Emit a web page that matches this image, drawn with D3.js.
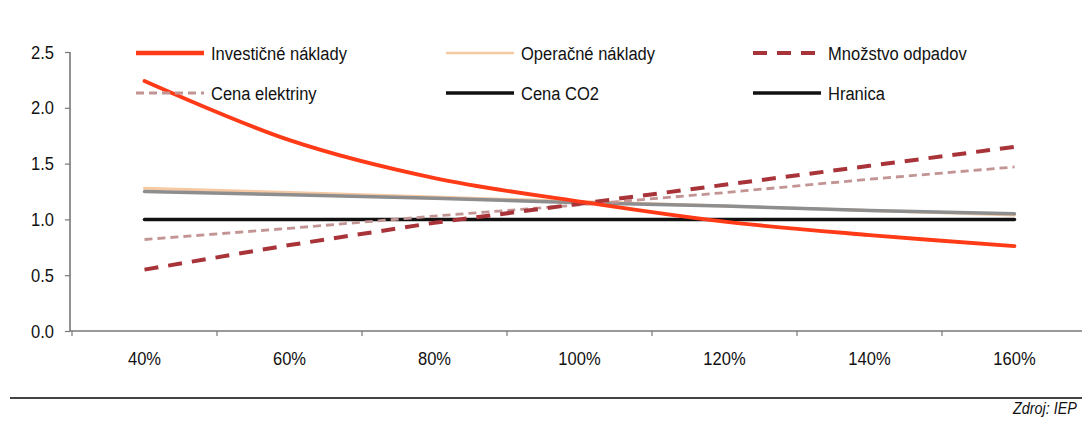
<!DOCTYPE html>
<html>
<head>
<meta charset="utf-8">
<script src="https://cdn.jsdelivr.net/npm/d3@7"></script>
<style>
  html, body { margin: 0; padding: 0; background: #fff; overflow: hidden; }
  svg { display: block; font-family: "Liberation Sans", Arial, sans-serif; }
</style>
</head>
<body>
<svg id="chart" width="1082" height="421"></svg>
<script>
// Sensitivity of the indicator to changes of each input (100% = base case)
const categories = ["40%", "60%", "80%", "100%", "120%", "140%", "160%"];
const yTicks = [0, 0.5, 1.0, 1.5, 2.0, 2.5];

const investicne = [2.24, 1.71, 1.37, 1.16, 0.98, 0.86, 0.76];
const operacne   = [1.28, 1.24, 1.20, 1.16, 1.12, 1.08, 1.04];
const odpady     = [0.55, 0.77, 0.97, 1.14, 1.31, 1.48, 1.65];
const elektrina  = [0.82, 0.92, 1.03, 1.13, 1.24, 1.36, 1.47];
const co2        = [1.25, 1.22, 1.19, 1.15, 1.12, 1.08, 1.05];
const hranica    = [1.00, 1.00, 1.00, 1.00, 1.00, 1.00, 1.00];

const series = [
  { name: "Operačné náklady",   values: operacne,   color: "#f6c9a2", legendColor: "#f6c9a2", width: 3,   legendWidth: 2.5, dash: null,   curve: d3.curveLinear },
  { name: "Cena CO2",           values: co2,        color: "#8e8e8e", legendColor: "#111",    width: 3.5, legendWidth: 3.5, dash: null,   curve: d3.curveLinear },
  { name: "Hranica",            values: hranica,    color: "#111",    legendColor: "#111",    width: 3.5, legendWidth: 3.5, dash: null,   curve: d3.curveLinear },
  { name: "Cena elektriny",     values: elektrina,  color: "#c29494", legendColor: "#c29494", width: 2.8, legendWidth: 2.8, dash: "8,5", curve: d3.curveLinear },
  { name: "Množstvo odpadov",   values: odpady,     color: "#a8343a", legendColor: "#a8343a", width: 4,   legendWidth: 4,   dash: "14,10", curve: d3.curveLinear },
  { name: "Investičné náklady", values: investicne, color: "#ff3a17", legendColor: "#ff3a17", width: 3.8, legendWidth: 4.5, dash: null,   curve: d3.curveCatmullRom.alpha(0.5) }
];

// legend layout: reading order in rows of three
const legendOrder = ["Investičné náklady", "Operačné náklady", "Množstvo odpadov",
                     "Cena elektriny", "Cena CO2", "Hranica"];

const FONT = 19;
const CONDENSE = 0.87;   // horizontal squeeze for a narrow typeface look

// squeeze a text element horizontally around its own anchor point
function condense(sel) {
  sel.each(function () {
    const t = d3.select(this);
    const tx = +t.attr("x") || 0;
    t.attr("transform", `translate(${tx},0) scale(${CONDENSE},1) translate(${-tx},0)`);
  });
}

const svg = d3.select("#chart");

const x = d3.scaleBand().domain(categories).range([72, 72 + 145 * categories.length]).padding(0);
const y = d3.scaleLinear().domain([0, 2.5]).range([331, 52]);
const cx = c => x(c) + x.bandwidth() / 2;

const axisColor = "#777";

// y axis
const yAxis = svg.append("g").attr("transform", "translate(70,0)")
  .call(d3.axisLeft(y).tickValues(yTicks).tickFormat(d3.format(".1f")).tickSize(5).tickPadding(11));
yAxis.select(".domain").attr("stroke", axisColor).attr("stroke-width", 1.6).attr("d", `M0,${y(2.5)}V${y(0)}`);
yAxis.selectAll(".tick line").attr("stroke", axisColor).attr("stroke-width", 1.2);
yAxis.selectAll(".tick text").attr("font-size", FONT).attr("fill", "#111").attr("font-family", null).call(condense);

// x axis: labels centred in each band, tick marks on band boundaries
const xAxis = svg.append("g").attr("transform", `translate(0,${y(0)})`)
  .call(d3.axisBottom(x).tickSize(0).tickPadding(21));
xAxis.select(".domain").attr("stroke", axisColor).attr("stroke-width", 1.6).attr("d", `M70,0H${x.range()[1]}`);
xAxis.selectAll(".tick text").attr("font-size", FONT).attr("fill", "#111").attr("font-family", null).call(condense);
xAxis.selectAll(".boundary")
  .data(categories.concat(["end"]))
  .join("line")
  .attr("class", "boundary")
  .attr("x1", (d, i) => x.range()[0] + i * x.bandwidth())
  .attr("x2", (d, i) => x.range()[0] + i * x.bandwidth())
  .attr("y1", 0).attr("y2", 5)
  .attr("stroke", axisColor).attr("stroke-width", 1.2);

// series lines
const line = d3.line().x((d, i) => cx(categories[i])).y(d => y(d));
svg.append("g").selectAll("path")
  .data(series)
  .join("path")
  .attr("fill", "none")
  .attr("stroke", d => d.color)
  .attr("stroke-width", d => d.width)
  .attr("stroke-dasharray", d => d.dash)
  .attr("stroke-linecap", d => d.dash ? "butt" : "round")
  .attr("d", d => line.curve(d.curve)(d.values));

// legend
const legendCols = [136, 446, 753];
const legendRows = [53, 93];
const legend = svg.append("g");
legendOrder.forEach((name, i) => {
  const s = series.find(d => d.name === name);
  const lx = legendCols[i % 3], ly = legendRows[Math.floor(i / 3)];
  legend.append("line")
    .attr("x1", lx).attr("x2", lx + 68).attr("y1", ly).attr("y2", ly)
    .attr("stroke", s.legendColor).attr("stroke-width", s.legendWidth)
    .attr("stroke-dasharray", s.dash);
  legend.append("text")
    .attr("x", lx + 75).attr("y", ly + 7)
    .attr("font-size", FONT).attr("fill", "#111")
    .text(name)
    .call(condense);
});

// footer rule and source
svg.append("line").attr("x1", 10).attr("x2", 1082).attr("y1", 398).attr("y2", 398)
  .attr("stroke", "#444").attr("stroke-width", 2);
svg.append("text").attr("x", 1013).attr("y", 414)
  .attr("font-size", 16.5).attr("font-style", "italic").attr("fill", "#111")
  .text("Zdroj: IEP")
  .call(condense);
</script>
</body>
</html>
